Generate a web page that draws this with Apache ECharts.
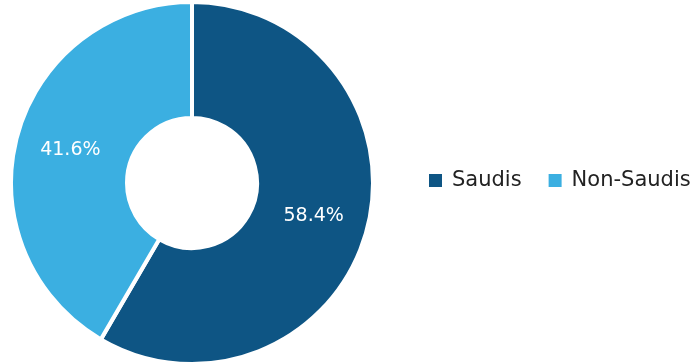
<!DOCTYPE html>
<html>
<head>
<meta charset="utf-8">
<script src="https://cdn.jsdelivr.net/npm/echarts@6/dist/echarts.min.js"></script>
<style>
  html, body { margin: 0; padding: 0; background: #fff; }
  #chart { width: 692px; height: 363px; }
</style>
</head>
<body>
<div id="chart"></div>
<script>
// Population split by nationality
const categories = ['Saudis', 'Non-Saudis'];
const shares = [58.4, 41.6];
const colors = ['#0E5584', '#3BAFE1'];

const chart = echarts.init(document.getElementById('chart'), null, { renderer: 'canvas' });

chart.setOption({
  animation: false,
  color: colors,
  legend: {
    data: categories,
    orient: 'horizontal',
    left: 422,
    top: 165,
    width: 300,
    itemWidth: 15,
    itemHeight: 15,
    itemGap: 25,
    icon: 'rect',
    textStyle: {
      fontFamily: 'DejaVu Sans',
      fontSize: 21,
      color: '#222',
      padding: [0, 0, 0, 4]
    }
  },
  series: [{
    type: 'pie',
    center: [192, 183],
    radius: [65, 181],
    startAngle: 90,
    clockwise: true,
    avoidLabelOverlap: false,
    itemStyle: { borderColor: '#fff', borderWidth: 4 },
    label: {
      show: true,
      position: 'inside',
      formatter: p => p.value.toFixed(1) + '%',
      color: '#fff',
      fontFamily: 'DejaVu Sans',
      fontSize: 19
    },
    labelLine: { show: false },
    emphasis: { disabled: true },
    data: categories.map((name, i) => ({ name, value: shares[i] }))
  }]
});
</script>
</body>
</html>
